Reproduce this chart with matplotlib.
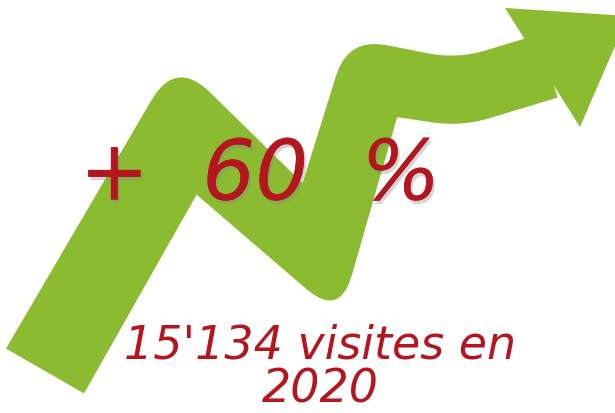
import numpy as np
import matplotlib
matplotlib.use("Agg")
import matplotlib.pyplot as plt
from matplotlib.patches import Polygon
from matplotlib import patheffects

# centre line of the big arrow (picture units, y pointing down)
trend_x = [45, 185, 320, 372, 459, 548]
trend_y = [371, 128, 252, 78, 93, 66]
band_width = [90, 86, 74, 70, 66, 66]
# rounding at each bend: (outer side, inner side)
bend_round = [(48, 0), (44, 0), (40, 0), (30, 30)]

# arrow head: back top, tip, back bottom
head_x = [505, 628, 580]
head_y = [8, 16, 127]

big_label = "+  60  %"
sub_label = "15'134 visites en\n2020"

GREEN = "#8abb30"
RED = "#b3161e"


def unit(v):
    return v / np.linalg.norm(v)


def cross_lines(p1, d1, p2, d2):
    A = np.array([d1, -d2]).T
    t, u = np.linalg.solve(A, p2 - p1)
    return p1 + t * d1


def quad(a, c, b, n=10):
    t = np.linspace(0, 1, n)[:, None]
    return (1 - t) ** 2 * a + 2 * (1 - t) * t * c + t ** 2 * b


P = np.column_stack([trend_x, trend_y]).astype(float)
half = np.array(band_width, float) / 2
dirs = np.array([unit(v) for v in np.diff(P, axis=0)])
nrm = np.column_stack([-dirs[:, 1], dirs[:, 0]])


def side(s):
    pts = [P[0] + s * nrm[0] * half[0]]
    for j in range(1, len(P) - 1):
        a1 = P[j - 1] + s * nrm[j - 1] * half[j - 1]
        a2 = P[j] + s * nrm[j - 1] * half[j]
        b1 = P[j] + s * nrm[j] * half[j]
        b2 = P[j + 1] + s * nrm[j] * half[j + 1]
        e1, e2 = unit(a2 - a1), unit(b2 - b1)
        m = cross_lines(a1, e1, b1, e2)
        outer = np.dot(m - P[j], dirs[j] - dirs[j - 1]) < 0
        k = bend_round[j - 1][0 if outer else 1]
        if k > 0:
            pts.extend(quad(m - e1 * k, m, m + e2 * k))
        else:
            pts.append(m)
    pts.append(P[-1] + s * nrm[-1] * half[-1])
    return np.array(pts)


outline = np.vstack([side(1), side(-1)[::-1]])

fig = plt.figure(figsize=(6.15, 4.13), dpi=100)
ax = fig.add_axes([0, 0, 1, 1])
ax.set_xlim(0, 615)
ax.set_ylim(413, 0)
ax.axis("off")

ax.add_patch(Polygon(outline, closed=True, fc=GREEN, ec="none"))
ax.add_patch(Polygon(np.column_stack([head_x, head_y]), closed=True,
                     fc=GREEN, ec="none"))

shadow = [patheffects.withSimplePatchShadow(offset=(1.5, -2.5), shadow_rgbFace="#888888", alpha=0.35),
          patheffects.Normal()]
ax.text(260, 176, big_label, color=RED, fontsize=60, style="italic",
        ha="center", va="center", path_effects=shadow)
ax.text(320, 368, sub_label, color=RED, fontsize=33, style="italic",
        fontweight="light", ha="center", va="center", linespacing=0.95)

fig.savefig("out.png", dpi=100)
